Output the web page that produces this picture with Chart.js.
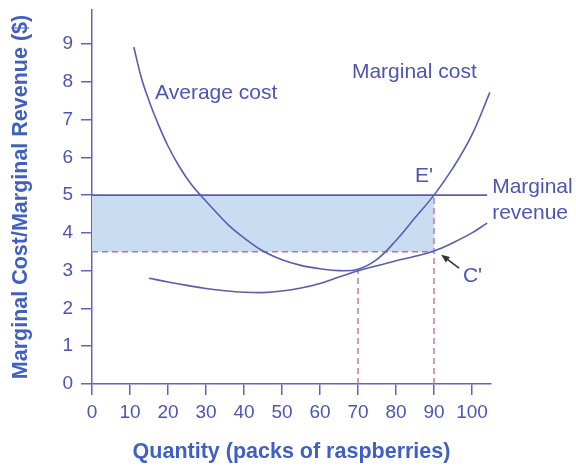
<!DOCTYPE html>
<html>
<head>
<meta charset="utf-8">
<script src="https://cdn.jsdelivr.net/npm/chart.js@4.4.1/dist/chart.umd.min.js"></script>
<style>
  body { margin: 0; background: #fff; }
  canvas { display: block; }
</style>
</head>
<body>
<canvas id="costChart" width="576" height="467"></canvas>
<script>
// ——— data ———
const xTicks = [0, 10, 20, 30, 40, 50, 60, 70, 80, 90, 100];
const yTicks = [0, 1, 2, 3, 4, 5, 6, 7, 8, 9];

// steep U-shaped cost curve
const steepX = [11, 13, 15, 17, 20, 23, 26, 29, 32, 36, 40, 45, 50, 55, 60, 65, 70, 75, 80, 85, 90, 95, 100, 104.7];
const steepY = [8.92, 8.1, 7.5, 6.98, 6.3, 5.75, 5.3, 4.95, 4.62, 4.2, 3.87, 3.52, 3.29, 3.14, 3.05, 3.0, 3.04, 3.3, 3.8, 4.4, 5.0, 5.72, 6.6, 7.72];

// flatter cost curve
const flatX = [15, 20, 25, 30, 35, 40, 45, 50, 55, 60, 65, 70, 75, 80, 85, 90, 95, 100, 104];
const flatY = [2.8, 2.7, 2.61, 2.53, 2.47, 2.43, 2.42, 2.46, 2.54, 2.66, 2.83, 3.0, 3.13, 3.26, 3.38, 3.52, 3.74, 4.0, 4.26];

// marginal revenue (price) and the two marked quantities
const price = 5;
const priceEnd = 104;
const qE = 90;      // E'
const costC = 3.5;  // C'
const qMin = 70;
const costMin = 3;

// ——— styles ———
const axisColor = '#6266b8';
const curveColor = '#5a5cb2';
const textColor = '#4d55b3';
const titleColor = '#3f5fc2';
const dashColor = '#c2709f';
const shadeColor = '#c8ddf1';
const fontFamily = '"Liberation Sans", Arial, sans-serif';

const pts = (xs, ys) => xs.map((x, i) => ({ x, y: ys[i] }));

// text labels placed in data units
const notes = [
  { text: 'Average cost', x: 16.6, y: 7.7 },
  { text: 'Marginal cost', x: 68.4, y: 8.25 },
  { text: "E'", x: 85, y: 5.5 },
  { text: 'Marginal', x: 105.3, y: 5.2 },
  { text: 'revenue', x: 105.3, y: 4.52 },
  { text: "C'", x: 97.6, y: 2.86 }
];

const notesPlugin = {
  id: 'notes',
  afterDatasetsDraw(chart) {
    const { ctx, scales: { x, y } } = chart;
    ctx.save();
    ctx.font = '21px ' + fontFamily;
    ctx.fillStyle = textColor;
    ctx.textBaseline = 'middle';
    ctx.textAlign = 'left';
    notes.forEach(n => ctx.fillText(n.text, x.getPixelForValue(n.x), y.getPixelForValue(n.y)));

    // arrow pointing at C'
    const x0 = x.getPixelForValue(96.6), y0 = y.getPixelForValue(3.07);
    const x1 = x.getPixelForValue(91.9), y1 = y.getPixelForValue(3.42);
    const a = Math.atan2(y1 - y0, x1 - x0);
    ctx.strokeStyle = '#333';
    ctx.fillStyle = '#333';
    ctx.lineWidth = 1.5;
    ctx.beginPath();
    ctx.moveTo(x0, y0);
    ctx.lineTo(x1 - 6 * Math.cos(a), y1 - 6 * Math.sin(a));
    ctx.stroke();
    ctx.beginPath();
    ctx.moveTo(x1, y1);
    ctx.lineTo(x1 - 9 * Math.cos(a - 0.4), y1 - 9 * Math.sin(a - 0.4));
    ctx.lineTo(x1 - 9 * Math.cos(a + 0.4), y1 - 9 * Math.sin(a + 0.4));
    ctx.closePath();
    ctx.fill();
    ctx.restore();
  }
};

const dashed = { borderColor: dashColor, borderWidth: 1.4, borderDash: [6, 4], pointRadius: 0, fill: false, order: 1 };
const solid = { borderColor: curveColor, borderWidth: 1.6, pointRadius: 0, fill: false, order: 0 };

new Chart(document.getElementById('costChart'), {
  type: 'line',
  data: {
    datasets: [
      // profit rectangle: filled down to the dashed cost line, drawn underneath everything
      { data: [{ x: 0, y: price }, { x: qE, y: price }], borderWidth: 0, pointRadius: 0,
        backgroundColor: shadeColor, fill: '+1', order: 5 },
      { data: [{ x: 0, y: costC }, { x: qE, y: costC }], ...dashed },
      { data: [{ x: qMin, y: 0 }, { x: qMin, y: costMin }], ...dashed },
      { data: [{ x: qE, y: 0 }, { x: qE, y: price }], ...dashed },
      { data: [{ x: 0, y: price }, { x: priceEnd, y: price }], ...solid },
      { data: pts(steepX, steepY), ...solid, tension: 0.4 },
      { data: pts(flatX, flatY), ...solid, tension: 0.4 }
    ]
  },
  options: {
    responsive: false,
    animation: false,
    layout: { padding: { top: 10, right: 85, left: 0, bottom: 0 } },
    plugins: { legend: { display: false }, tooltip: { enabled: false } },
    scales: {
      x: {
        type: 'linear', min: 0, max: 105,
        afterBuildTicks: s => { s.ticks = xTicks.map(v => ({ value: v })); },
        afterFit: s => { s.height = 83; s.paddingLeft = 0; s.paddingRight = 0; },
        grid: { drawOnChartArea: false, drawTicks: true, tickLength: 11, color: axisColor, lineWidth: 1.5 },
        border: { color: axisColor, width: 1.5 },
        ticks: { color: textColor, font: { family: fontFamily, size: 19 }, padding: 6, maxRotation: 0 },
        title: { display: true, text: 'Quantity (packs of raspberries)', color: titleColor,
                 font: { family: fontFamily, size: 21.5, weight: 'bold' }, padding: { top: 8, bottom: 2 } }
      },
      y: {
        min: 0, max: 9.9,
        afterBuildTicks: s => { s.ticks = yTicks.map(v => ({ value: v })); },
        afterFit: s => { s.width = 92; s.paddingTop = 0; s.paddingBottom = 0; },
        grid: { drawOnChartArea: false, drawTicks: true, tickLength: 11, color: axisColor, lineWidth: 1.5 },
        border: { color: axisColor, width: 1.5 },
        ticks: { color: textColor, font: { family: fontFamily, size: 19 }, padding: 8 },
        title: { display: true, text: 'Marginal Cost/Marginal Revenue ($)', color: titleColor,
                 font: { family: fontFamily, size: 21.5, weight: 'bold' }, padding: { top: 8, bottom: 4 } }
      }
    }
  },
  plugins: [notesPlugin]
});
</script>
</body>
</html>
